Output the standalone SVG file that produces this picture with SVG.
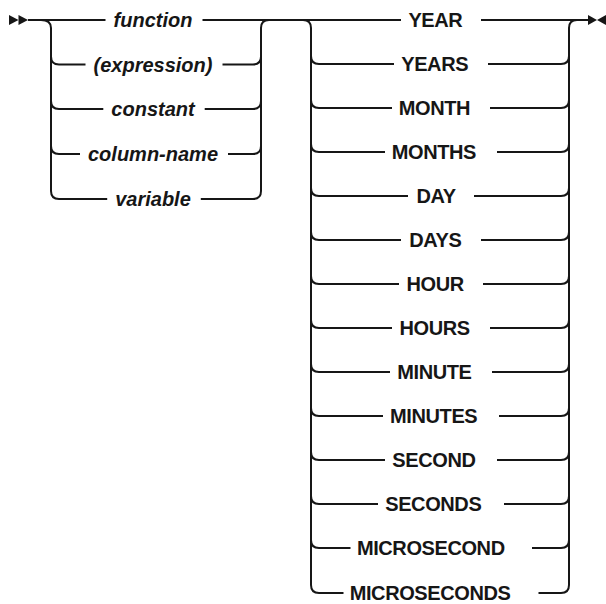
<svg xmlns="http://www.w3.org/2000/svg" width="606" height="604" viewBox="0 0 606 604">
<style>
.ln{fill:none;stroke:#161616;stroke-width:2;stroke-linecap:butt;stroke-linejoin:round}
.ar{fill:#161616;stroke:none}
.it{font-family:"Liberation Sans",Arial,sans-serif;font-style:italic;font-weight:bold;font-size:20px;fill:#161616;text-anchor:middle}
.kw{font-family:"Liberation Sans",Arial,sans-serif;font-weight:bold;font-size:20px;letter-spacing:-0.4px;fill:#161616;text-anchor:middle}
</style>
<rect width="606" height="604" fill="#ffffff"/>
<g id="connectors">
<polygon class="ar" points="9,15 9,25 18.5,20"/>
<polygon class="ar" points="18.5,15 18.5,25 28,20"/>
<polygon class="ar" points="588,15 588,25 597,20"/>
<polygon class="ar" points="606,15 606,25 597,20"/>
<path class="ln" d="M28 20H105.5M202.5 20H401M481 20H588"/>
<path class="ln" d="M41 20Q51 20 51 28V191Q51 199 59 199H107.2"/>
<path class="ln" d="M51 56.5Q51 64.5 59 64.5H85.5M51 101Q51 109 59 109H103.3M51 146Q51 154 59 154H80"/>
<path class="ln" d="M269 20Q261 20 261 28V191Q261 199 253 199H200.8"/>
<path class="ln" d="M222.5 64.5H253Q261 64.5 261 56.5M204.7 109H253Q261 109 261 101M228 154H253Q261 154 261 146"/>
<path class="ln" d="M303 20Q311 20 311 28V585Q311 593 319 593H343.5"/>
<path class="ln" d="M311 56Q311 64 319 64H394M311 100Q311 108 319 108H392M311 144Q311 152 319 152H385M311 188Q311 196 319 196H408M311 232Q311 240 319 240H401M311 276Q311 284 319 284H399M311 320Q311 328 319 328H392M311 364Q311 372 319 372H390M311 408Q311 416 319 416H383M311 452Q311 460 319 460H385M311 496Q311 504 319 504H378M311 540Q311 548 319 548H350.5"/>
<path class="ln" d="M577 20Q569 20 569 28V585Q569 593 561 593H538.5"/>
<path class="ln" d="M488 64H561Q569 64 569 56M490 108H561Q569 108 569 100M497 152H561Q569 152 569 144M474 196H561Q569 196 569 188M481 240H561Q569 240 569 232M483 284H561Q569 284 569 276M490 328H561Q569 328 569 320M492 372H561Q569 372 569 364M499 416H561Q569 416 569 408M497 460H561Q569 460 569 452M504 504H561Q569 504 569 496M532 548H561Q569 548 569 540"/>
</g>
<g id="function"><text class="it" x="153" y="27">function</text></g>
<g id="expression"><text class="it" x="153" y="71.5">(expression)</text></g>
<g id="constant"><text class="it" x="153" y="116">constant</text></g>
<g id="column-name"><text class="it" x="153" y="161">column-name</text></g>
<g id="variable"><text class="it" x="153" y="206">variable</text></g>
<g id="YEAR"><text class="kw" x="435.4" y="27">YEAR</text></g>
<g id="YEARS"><text class="kw" x="434.7" y="71">YEARS</text></g>
<g id="MONTH"><text class="kw" x="434.5" y="115">MONTH</text></g>
<g id="MONTHS"><text class="kw" x="433.9" y="159">MONTHS</text></g>
<g id="DAY"><text class="kw" x="436" y="203">DAY</text></g>
<g id="DAYS"><text class="kw" x="435.4" y="247">DAYS</text></g>
<g id="HOUR"><text class="kw" x="435.2" y="291">HOUR</text></g>
<g id="HOURS"><text class="kw" x="434.6" y="335">HOURS</text></g>
<g id="MINUTE"><text class="kw" x="434.4" y="379">MINUTE</text></g>
<g id="MINUTES"><text class="kw" x="433.7" y="423">MINUTES</text></g>
<g id="SECOND"><text class="kw" x="433.9" y="467">SECOND</text></g>
<g id="SECONDS"><text class="kw" x="433.3" y="511">SECONDS</text></g>
<g id="MICROSECOND"><text class="kw" x="430.8" y="555">MICROSECOND</text></g>
<g id="MICROSECONDS"><text class="kw" x="430.1" y="600">MICROSECONDS</text></g>
</svg>
